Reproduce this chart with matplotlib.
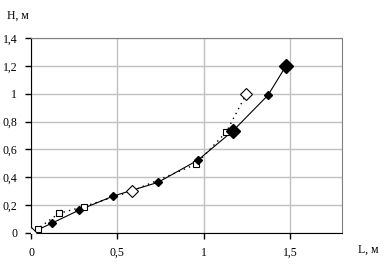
import numpy as np
import matplotlib
matplotlib.use('Agg')
import matplotlib.pyplot as plt
from matplotlib.ticker import FuncFormatter

plt.rcParams['font.family'] = ['Liberation Serif', 'DejaVu Serif']

# solid curve, small filled diamonds
L_calc = [0, 0.12, 0.28, 0.476, 0.736, 0.967, 1.17, 1.372, 1.476]
H_calc = [0, 0.07, 0.165, 0.265, 0.364, 0.524, 0.735, 0.99, 1.2]
L_small = [0.12, 0.28, 0.476, 0.736, 0.967, 1.372]
H_small = [0.07, 0.165, 0.265, 0.364, 0.524, 0.99]
# big filled diamonds
L_big = [1.17, 1.476]
H_big = [0.735, 1.2]
# dotted curve, open squares
L_exp = [0, 0.039, 0.16, 0.306, 0.582, 0.954, 1.131, 1.245]
H_exp = [0, 0.03, 0.14, 0.19, 0.30, 0.493, 0.727, 0.995]
L_sq = [0.039, 0.16, 0.306, 0.954, 1.131]
H_sq = [0.03, 0.14, 0.19, 0.493, 0.727]
# open diamonds
L_open = [0, 0.582, 1.245]
H_open = [0, 0.30, 0.995]

def comma(v, pos):
    s = ('%g' % round(v, 2))
    return s.replace('.', ',')

fig = plt.figure(figsize=(3.92, 2.65), dpi=100)
ax = fig.add_axes([0.0791, 0.1208, 0.7934, 0.7358])

ax.plot(L_exp, H_exp, color='black', lw=1, ls=(0, (1, 3)), zorder=2)
ax.plot(L_calc, H_calc, color='black', lw=0.8, zorder=2)
ax.plot(L_sq, H_sq, ls='none', marker='s', ms=5, mfc='white', mec='black', mew=0.8, zorder=3)
ax.plot(L_open, H_open, ls='none', marker='D', ms=6.5, mfc='white', mec='black', mew=0.8, zorder=3)
ax.plot(L_small, H_small, ls='none', marker='D', ms=4, mfc='black', mec='black', zorder=4)
ax.plot(L_big, H_big, ls='none', marker='D', ms=7, mfc='black', mec='black', zorder=4)

ax.set_xlim(0, 1.8)
ax.set_ylim(0, 1.4)
ax.set_xticks([0, 0.5, 1, 1.5])
ax.set_yticks(np.arange(0, 1.41, 0.2))
ax.xaxis.set_major_formatter(FuncFormatter(comma))
ax.yaxis.set_major_formatter(FuncFormatter(comma))
ax.grid(True, color='#c0c0c0', lw=1)
ax.set_axisbelow(True)
for s in ['top', 'right']:
    ax.spines[s].set_color('#808080')
ax.spines['left'].set_color('black')
ax.spines['bottom'].set_color('black')
ax.tick_params(direction='out', length=4, width=1, labelsize=8.5, pad=6, colors='black')

fig.text(0.018, 0.94, 'H, м', fontsize=8.5, ha='left', va='center')
fig.text(0.913, 0.057, 'L, м', fontsize=8.5, ha='left', va='center')

fig.savefig('out.png', dpi=100)
